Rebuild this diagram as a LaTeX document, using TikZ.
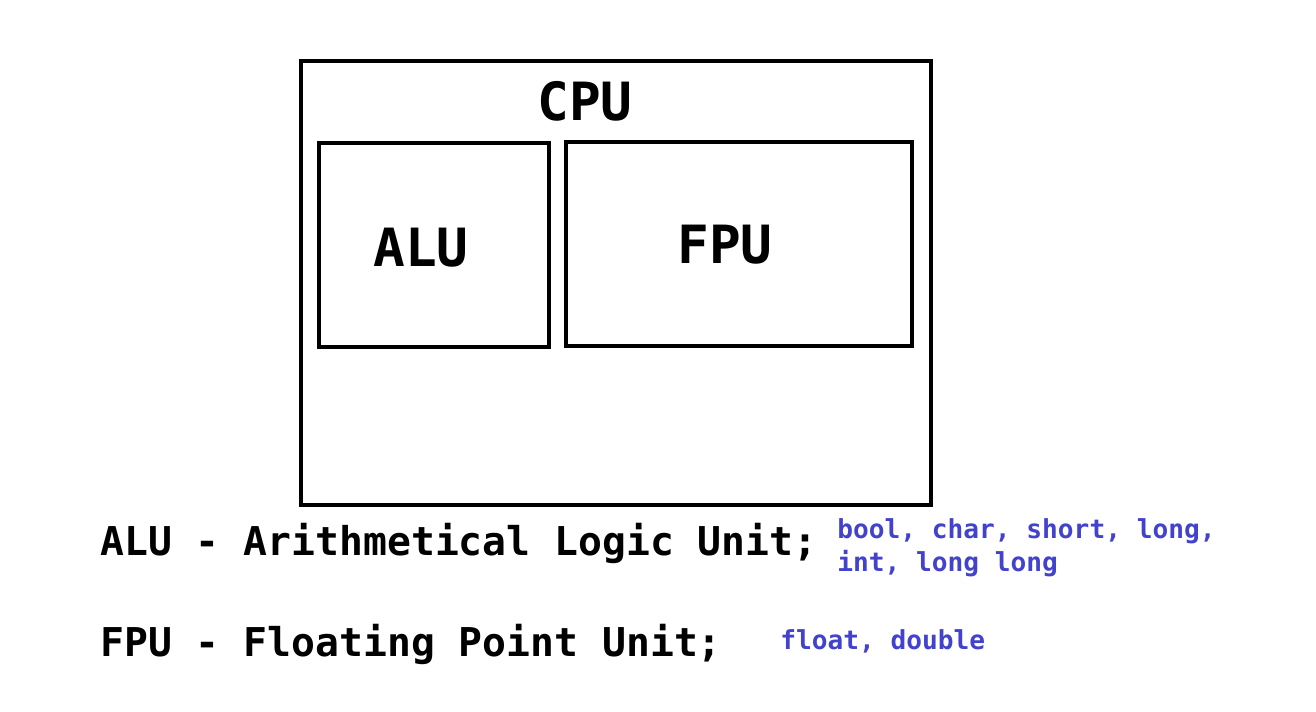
\documentclass[tikz,border=0pt]{standalone}
\usepackage{fontspec}
\setmonofont{DejaVu Sans Mono}
\usepackage{tikz}
\usetikzlibrary{positioning}
\definecolor{typeblue}{RGB}{66,66,204}

\begin{document}
\begin{tikzpicture}[x=0.02cm, y=-0.02cm,
  unitbox/.style={draw, line width=0.08cm, inner sep=0pt},
  unitlab/.style={anchor=base, inner sep=0pt, font=\ttfamily\bfseries\fontsize{30}{36}\selectfont},
  legend/.style={anchor=base west, inner sep=0pt, font=\ttfamily\bfseries\fontsize{22.6}{27}\selectfont},
  types/.style={anchor=base west, inner sep=0pt, text=typeblue, align=left,
    font=\ttfamily\bfseries\fontsize{14.9}{19.3}\selectfont},
]
\useasboundingbox (0,0) rectangle (1316,712);
\node[unitbox, minimum width=12.6cm, minimum height=8.88cm] (cpu) at (616,283) {};
\node[unitbox, minimum width=4.6cm, minimum height=4.08cm] (alu) at (434,245) {};
\node[unitbox, minimum width=6.92cm, minimum height=4.08cm] (fpu) at (739,244) {};
\node[unitlab] (cpulab) at (585,121) {CPU};
\node[unitlab] (alulab) at (421,267) {ALU};
\node[unitlab] (fpulab) at (725,264) {FPU};
% legend
\node[legend] (aluleg) at (100,556) {ALU - Arithmetical Logic Unit;};
\node[legend] (fpuleg) at (100,657) {FPU - Floating Point Unit;};
\node[types] (alutypes) at (837,572) {bool, char, short, long,\\int, long long};
\node[types] (fputypes) at (780,650) {float, double};
\end{tikzpicture}
\end{document}
